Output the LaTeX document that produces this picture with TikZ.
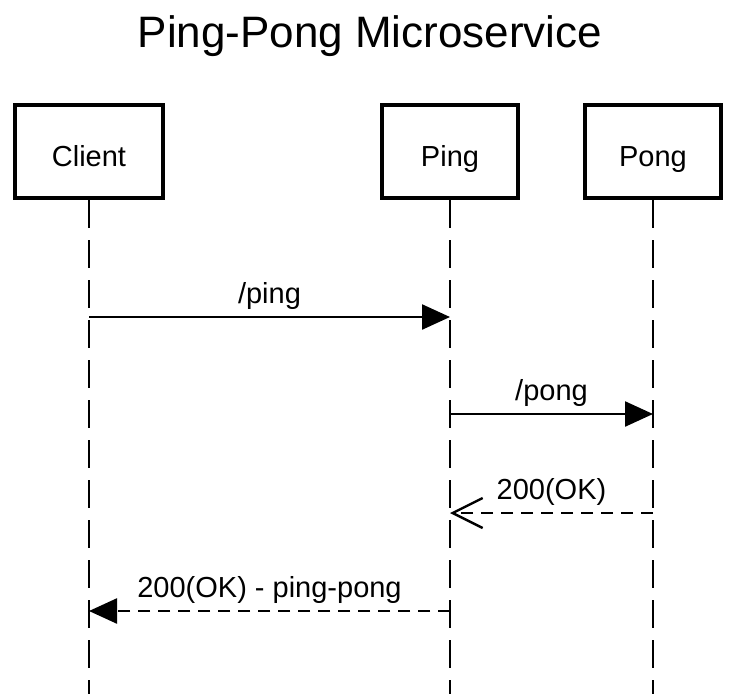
\documentclass[tikz,border=0pt]{standalone}
\usepackage{fontspec}
\setmainfont{Liberation Sans}
\usetikzlibrary{arrows.meta}
\tikzstyle{arrow} = [-{Triangle[length=28pt,width=25pt]},line width=2.4pt]
\tikzstyle{reply} = [arrow,dash pattern=on 12pt off 8pt]
\tikzstyle{openreply} = [-{Straight Barb[length=30pt,width=30pt,line width=2.4pt]},line width=2.4pt,dash pattern=on 12pt off 8pt]
\tikzstyle{actor} = [draw,line width=4pt,minimum height=93pt,text height=29pt,text depth=0pt,font=\fontsize{29}{34}\selectfont]
\tikzstyle{life} = [line width=2.4pt,dash pattern=on 28pt off 12pt]
\tikzstyle{msg} = [midway,anchor=base,yshift=14pt,font=\fontsize{29}{34}\selectfont]

\begin{document}
\begin{tikzpicture}[x=1pt,y=-1pt]
        \useasboundingbox (0,0) rectangle (736,694);
        \node[anchor=base,font=\fontsize{44}{52}\selectfont] at (370,47) (title) {Ping-Pong Microservice};

        \node[actor, minimum width=148pt] at (89,151.5) (client) {Client};
        \node[actor, minimum width=136pt] at (450,151.5) (ping) {Ping};
        \node[actor, minimum width=136pt] at (653,151.5) (pong) {Pong};

        \coordinate (client-end) at (client |- 0,694);
        \coordinate (ping-end) at (ping |- 0,694);
        \coordinate (pong-end) at (pong |- 0,694);
        \draw[life] (client) -- (client-end);
        \draw[life] (ping) -- (ping-end);
        \draw[life] (pong) -- (pong-end);

        \draw[arrow] (client |- 0,317) -- (ping |- 0,317) node[msg]{/ping};
        \draw[arrow] (ping |- 0,414) -- (pong |- 0,414) node[msg]{/pong};
        \draw[openreply] (pong |- 0,513) -- (ping |- 0,513) node[msg]{200(OK)};
        \draw[reply] (ping |- 0,611) -- (client |- 0,611) node[msg]{200(OK) - ping-pong};
        \end{tikzpicture}
\end{document}
